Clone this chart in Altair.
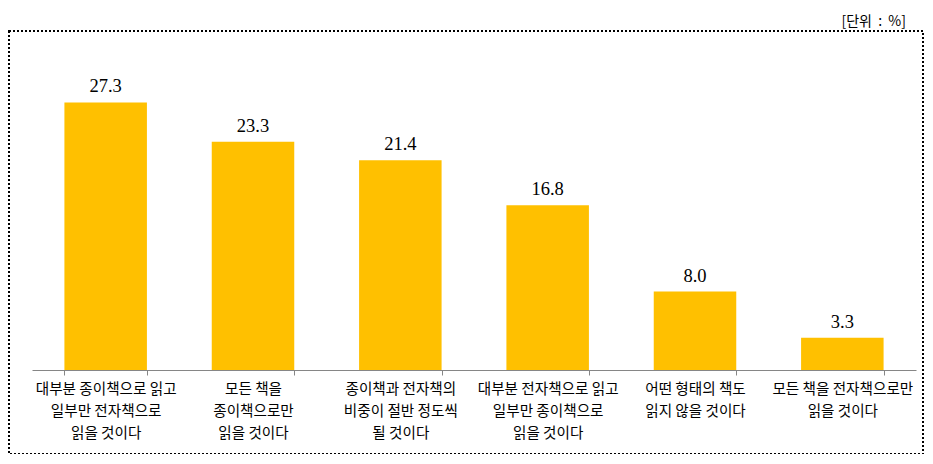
import altair as alt
import pandas as pd

categories = [
    "대부분 종이책으로 읽고|일부만 전자책으로|읽을 것이다",
    "모든 책을|종이책으로만|읽을 것이다",
    "종이책과 전자책의|비중이 절반 정도씩|될 것이다",
    "대부분 전자책으로 읽고|일부만 종이책으로|읽을 것이다",
    "어떤 형태의 책도|읽지 않을 것이다",
    "모든 책을 전자책으로만|읽을 것이다",
]
values = [27.3, 23.3, 21.4, 16.8, 8.0, 3.3]
unit_label = "[단위\u00a0\u00a0:\u00a0\u00a0%]"

df = pd.DataFrame({"cat": categories, "val": values})
df["txt"] = df["val"].map(lambda v: f"{v:.1f}")

KR = "Noto Sans CJK KR"

x = alt.X(
    "cat:N",
    sort=None,
    scale=alt.Scale(paddingInner=0.44, paddingOuter=0.22),
    axis=alt.Axis(
        title=None,
        labelAngle=0,
        labelExpr="split(datum.label, '|')",
        labelFont=KR,
        labelFontSize=14.6,
        labelColor="#000000",
        labelLineHeight=22,
        labelPadding=6,
        labelLimit=200,
        tickBand="extent",
        tickSize=5,
        tickColor="#868686",
        domainColor="#868686",
        domainWidth=1,
        grid=False,
    ),
)
y = alt.Y("val:Q", scale=alt.Scale(domain=[0, 30]), axis=None)

base = alt.Chart(df)
bars = base.mark_bar(color="#FFC000").encode(x=x, y=y)
text = base.mark_text(
    dy=-16, font="Liberation Serif", fontSize=18.5, color="#000000"
).encode(x=x, y=y, text="txt:N")

border = alt.Chart(pd.DataFrame({"a": [0]})).mark_rect(
    fill=None, stroke="#000000", strokeWidth=2, strokeDash=[2, 2]
).encode(
    x=alt.value(-23), x2=alt.value(891), y=alt.value(-45), y2=alt.value(378)
)

unit = alt.Chart(pd.DataFrame({"t": [unit_label]})).mark_text(
    align="right", baseline="middle", font=KR, fontSize=14, color="#000000"
).encode(x=alt.value(874), y=alt.value(-54), text="t:N")

chart = (
    alt.layer(border, bars, text, unit)
    .properties(
        width=884,
        height=294,
        padding={"left": 24, "top": 68, "right": 9, "bottom": 84},
        autosize=alt.AutoSizeParams(type="none"),
    )
    .configure_view(stroke=None)
)

chart.save("out.html", embed_options={"renderer": "svg", "actions": False})
